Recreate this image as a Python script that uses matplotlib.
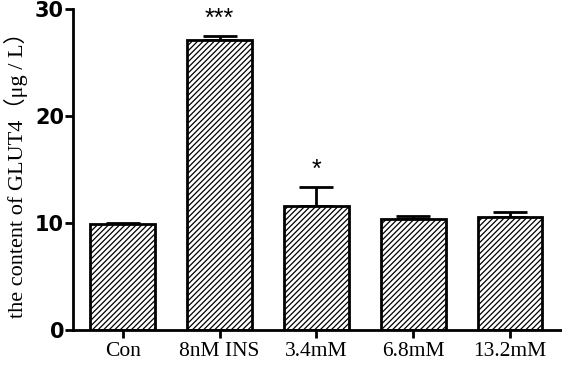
import matplotlib.pyplot as plt
import numpy as np

# group labels, means and SD
groups = ['Con', '8nM INS', '3.4mM', '6.8mM', '13.2mM']
means = [9.9, 27.1, 11.6, 10.35, 10.55]
errs = [0.12, 0.4, 1.8, 0.3, 0.45]
marks = ['', '***', '*', '', '']

serif = ['Liberation Serif', 'Noto Sans CJK SC']
plt.rcParams['hatch.linewidth'] = 0.9

fig = plt.figure(figsize=(5.62, 3.66), dpi=100)
ax = fig.add_axes([0.13, 0.098, 0.868, 0.877])

x = np.arange(len(groups))
ax.bar(x, means, width=0.67, color='white', edgecolor='black',
       linewidth=2, hatch='//////', zorder=2)
ax.errorbar(x, means, yerr=[np.zeros(len(errs)), errs], fmt='none',
            ecolor='black', elinewidth=2, capsize=12.5, capthick=2, zorder=1)

for xi, m, e, s in zip(x, means, errs, marks):
    if s:
        ax.text(xi, m + e + 0.5, s, ha='center', va='bottom',
                fontsize=18, family='Liberation Sans')

ax.set_xlim(-0.515, 4.526)
ax.set_ylim(0, 30)
ax.set_yticks([0, 10, 20, 30])
ax.set_xticks(x)
ax.set_xticklabels(groups, fontsize=15.5, family=serif)
for lab in ax.get_yticklabels():
    lab.set_fontweight('bold')
    lab.set_fontsize(15)
    lab.set_family('DejaVu Sans')

ax.spines['top'].set_visible(False)
ax.spines['right'].set_visible(False)
ax.spines['left'].set_linewidth(2)
ax.spines['bottom'].set_linewidth(2)
ax.tick_params(axis='both', length=5.5, width=2, direction='out')
ax.tick_params(axis='y', pad=1)
ax.tick_params(axis='x', pad=3)

ax.set_ylabel('the content of GLUT4（μg / L）', fontsize=16, family=serif,
              labelpad=5)

plt.savefig('out.png', dpi=100)
